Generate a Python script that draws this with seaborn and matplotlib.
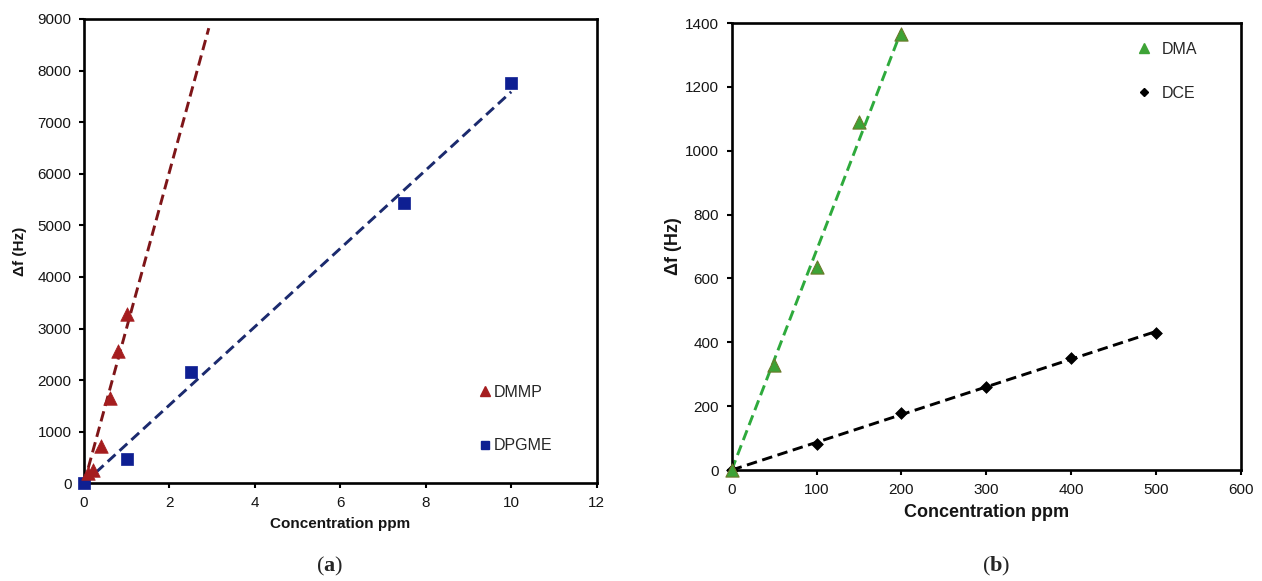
import numpy as np
import pandas as pd
import matplotlib
matplotlib.use("Agg")
import matplotlib.pyplot as plt
import seaborn as sns
from matplotlib.lines import Line2D

# Panel (a): frequency shift vs concentration for DMMP and DPGME
dmmp_ppm = [0.1, 0.2, 0.4, 0.6, 0.8, 1.0]
dmmp_hz = [200, 250, 715, 1645, 2555, 3290]
dpgme_ppm = [0, 1, 2.5, 7.5, 10]
dpgme_hz = [0, 470, 2150, 5430, 7750]

# Panel (b): frequency shift vs concentration for DMA and DCE
dma_ppm = [0, 50, 100, 150, 200]
dma_hz = [0, 328, 635, 1090, 1365]
dce_ppm = [0, 100, 200, 300, 400, 500]
dce_hz = [0, 81, 180, 260, 351, 430]

a_xticks = [0, 2, 4, 6, 8, 10, 12]
a_yticks = [0, 1000, 2000, 3000, 4000, 5000, 6000, 7000, 8000, 9000]
b_xticks = [0, 100, 200, 300, 400, 500, 600]
b_yticks = [0, 200, 400, 600, 800, 1000, 1200, 1400]

x_label = "Concentration ppm"
y_label = "Δf (Hz)"

sns.set_theme(style="white")
plt.rcParams["font.family"] = ["Liberation Sans", "DejaVu Sans"]
plt.rcParams["mathtext.fontset"] = "custom"
plt.rcParams["mathtext.rm"] = "Liberation Serif"
plt.rcParams["mathtext.bf"] = "Liberation Serif:bold"


def origin_fit(x, y, x_end):
    """Least-squares line through the origin, evaluated from 0 to x_end."""
    x = np.asarray(x, float)
    y = np.asarray(y, float)
    slope = np.sum(x * y) / np.sum(x * x)
    xs = np.array([0.0, x_end])
    return pd.DataFrame({"x": xs, "y": slope * xs})


def style_axes(ax, xticks, yticks, xlab_y, ylab_x, label_size):
    ax.set_xlim(xticks[0], xticks[-1])
    ax.set_ylim(yticks[0], yticks[-1])
    ax.set_xticks(xticks)
    ax.set_yticks(yticks)
    ax.tick_params(axis="both", which="major", direction="out", length=3.5,
                   width=1.5, color="black", labelsize=11, pad=5.5,
                   labelcolor="#151515", bottom=True, left=True)
    for sp in ax.spines.values():
        sp.set_visible(True)
        sp.set_color("black")
        sp.set_linewidth(1.9)
    ax.set_xlabel(x_label, fontsize=label_size, fontweight="bold", color="#151515")
    ax.set_ylabel(y_label, fontsize=label_size, fontweight="bold", color="#151515")
    ax.xaxis.set_label_coords(0.5, xlab_y)
    ax.yaxis.set_label_coords(ylab_x, 0.5)
    ax.grid(False)


dash = (0, (3.6, 1.9))

fig = plt.figure(figsize=(12.62, 5.81), dpi=100)
ax_a = fig.add_axes([0.0666, 0.1682, 0.4062, 0.7991])
ax_b = fig.add_axes([0.5798, 0.1910, 0.4036, 0.7694])

# ---- panel (a)
red_fill, red_line = "#A51D1F", "#7E1518"
blue_fill, blue_line = "#0E1F92", "#1B2A6E"

fit = origin_fit(dmmp_ppm, dmmp_hz, 2.92)
sns.lineplot(data=fit, x="x", y="y", ax=ax_a, color=red_line, lw=2.1,
             linestyle=dash, zorder=2)
fit = origin_fit(dpgme_ppm, dpgme_hz, 10)
sns.lineplot(data=fit, x="x", y="y", ax=ax_a, color=blue_line, lw=2.1,
             linestyle=dash, zorder=2)

sns.scatterplot(x=dpgme_ppm, y=dpgme_hz, ax=ax_a, marker="s", s=75,
                color=blue_fill, edgecolor=blue_fill, linewidth=0.5,
                zorder=3, clip_on=False)
sns.scatterplot(x=dmmp_ppm, y=dmmp_hz, ax=ax_a, marker="^", s=95,
                color=red_fill, edgecolor=red_fill, linewidth=0.5,
                zorder=4, clip_on=False)

style_axes(ax_a, a_xticks, a_yticks, -0.073, -0.111, 11)

handles_a = [
    Line2D([], [], marker="^", ls="none", color=red_fill, markersize=6.5),
    Line2D([], [], marker="s", ls="none", color=blue_fill, markersize=6),
]
ax_a.legend(handles_a, ["DMMP", "DPGME"], loc="upper left",
            bbox_to_anchor=(0.772, 0.212), frameon=False, fontsize=11.5,
            handlelength=0.7, handletextpad=0.15, labelspacing=2.4,
            borderpad=0, borderaxespad=0)

# ---- panel (b)
green_fill, green_edge, green_line = "#3DA336", "#6B7A2A", "#2EAA3C"

fit = origin_fit(dma_ppm, dma_hz, 200)
sns.lineplot(data=fit, x="x", y="y", ax=ax_b, color=green_line, lw=2.1,
             linestyle=dash, zorder=2)
fit = origin_fit(dce_ppm, dce_hz, 500)
sns.lineplot(data=fit, x="x", y="y", ax=ax_b, color="black", lw=2.1,
             linestyle=dash, zorder=2)

sns.scatterplot(x=dce_ppm, y=dce_hz, ax=ax_b, marker="D", s=36,
                color="black", edgecolor="black", linewidth=0.5,
                zorder=3, clip_on=False)
sns.scatterplot(x=dma_ppm, y=dma_hz, ax=ax_b, marker="^", s=90,
                color=green_fill, edgecolor=green_edge, linewidth=0.8,
                zorder=4, clip_on=False)

style_axes(ax_b, b_xticks, b_yticks, -0.077, -0.098, 13)

handles_b = [
    Line2D([], [], marker="^", ls="none", color=green_fill, markersize=6.5),
    Line2D([], [], marker="D", ls="none", color="black", markersize=4.5),
]
ax_b.legend(handles_b, ["DMA", "DCE"], loc="upper left",
            bbox_to_anchor=(0.795, 0.958), frameon=False, fontsize=11.5,
            handlelength=0.9, handletextpad=0.7, labelspacing=1.8,
            borderpad=0, borderaxespad=0)

# ---- panel captions
fig.text(0.2615, 0.016, r"($\mathbf{a}$)", ha="center", va="baseline",
         fontsize=16, family="Liberation Serif")
fig.text(0.789, 0.016, r"($\mathbf{b}$)", ha="center", va="baseline",
         fontsize=16, family="Liberation Serif")

fig.savefig("out.png", dpi=100, facecolor="white")
